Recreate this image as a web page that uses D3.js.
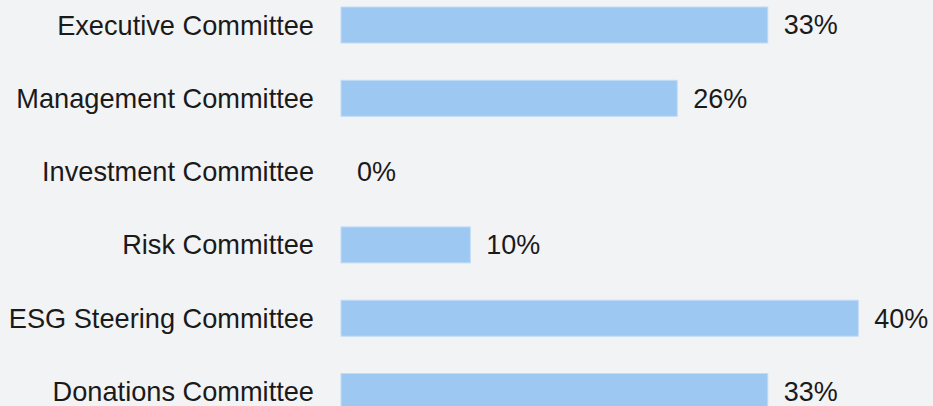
<!DOCTYPE html>
<html>
<head>
<meta charset="utf-8">
<script src="https://cdn.jsdelivr.net/npm/d3@7"></script>
<style>
	html, body { margin: 0; padding: 0; background: #f2f3f5; overflow: hidden; }
	text { font-family: "Liberation Sans", Arial, sans-serif; fill: #1a1a1a; }
</style>
</head>
<body>
<svg class="chart"></svg>
<script>
	var committees = ["Executive Committee", "Management Committee", "Investment Committee",
		"Risk Committee", "ESG Steering Committee", "Donations Committee"];
	var shares = [33, 26, 0, 10, 40, 33];
	var xTicks = [0, 40];

	var svgWidth = 933,
		svgHeight = 406;

	var chart = d3.select( ".chart" )
		.attr( "width", svgWidth )
		.attr( "height", svgHeight );

	chart.append( "rect" )
		.attr( "width", svgWidth )
		.attr( "height", svgHeight )
		.attr( "fill", "#f2f3f5" );

	var x = d3.scaleLinear()
		.domain( [xTicks[0], xTicks[1]] )
		.range( [341, 858.3] );

	var y = d3.scaleBand()
		.domain( committees )
		.range( [-30.3, 446.8] )
		.paddingInner( 0.509 )
		.paddingOuter( 0.509 );

	var rows = chart.selectAll( ".row" )
		.data( committees )
		.enter()
		.append( "g" )
		.classed( "row", true );

	rows.append( "rect" )
		.attr( "x", x(0) )
		.attr( "y", function(d) { return y(d); } )
		.attr( "width", function(d, i) { return x(shares[i]) - x(0); } )
		.attr( "height", y.bandwidth() )
		.attr( "fill", function(d, i) { return shares[i] > 0 ? "#9cc8f1" : "none"; } )
		.attr( "stroke", function(d, i) { return shares[i] > 0 ? "#c2dcf5" : "none"; } )
		.attr( "stroke-width", 1 );

	// category labels, right aligned against the bars
	rows.append( "text" )
		.attr( "x", 314 )
		.attr( "y", function(d) { return y(d) + y.bandwidth() / 2; } )
		.attr( "dy", "0.35em" )
		.attr( "text-anchor", "end" )
		.style( "font-size", "27.2px" )
		.text( function(d) { return d; } );

	// value labels
	rows.append( "text" )
		.attr( "x", function(d, i) { return x(shares[i]) + 16; } )
		.attr( "y", function(d) { return y(d) + y.bandwidth() / 2; } )
		.attr( "dy", "0.35em" )
		.style( "font-size", "27px" )
		.text( function(d, i) { return shares[i] + "%"; } );
</script>
</body>
</html>
